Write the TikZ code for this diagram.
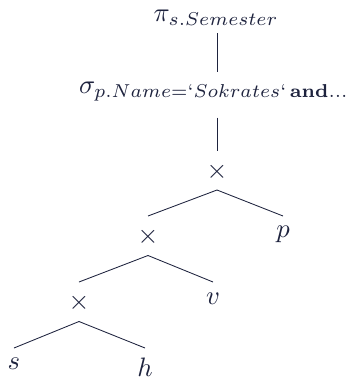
\documentclass[tikz,border=0pt]{standalone}
\usetikzlibrary{calc}
\definecolor{ink}{RGB}{30,35,62}
\begin{document}
\begin{tikzpicture}[x=0.375pt,y=-0.375pt,
  every node/.style={text=ink, inner sep=0pt},
  edge/.style={draw=ink, line width=0.32pt}]
\useasboundingbox (0,0) rectangle (353,378);
\node[anchor=base] (pi) at (216,22) {$\pi_{s.Semester}$};
\node[anchor=base] (sel) at (214,93) {$\sigma_{p.Name=`Sokrates`\,\mathbf{and...}}$};
\node (x1) at (217,171.5) {$\times$};
\node (x2) at (148,237) {$\times$};
\node (x3) at (79,303) {$\times$};
\node[anchor=north] (p) at (283,225) {$p$};
\node[anchor=north] (v) at (213,292) {$v$};
\node[anchor=north] (s) at (14,357) {$s$};
\node[anchor=north] (h) at (145,357) {$h$};
\draw[edge] ($(x1.center)+(0,-138.5)$) -- ($(x1.center)+(0,-99.5)$);
\draw[edge] ($(x1.center)+(0,-54)$) -- ($(x1.center)+(0,-21)$);
\draw[edge] ($(x1.center)+(0,18.5)$) -- ($(x2.center)+(0,-21)$);
\draw[edge] ($(x1.center)+(0,18.5)$) -- ($(p.north)+(0,-9)$);
\draw[edge] ($(x2.center)+(0,18.5)$) -- ($(x3.center)+(0,-21)$);
\draw[edge] ($(x2.center)+(0,18.5)$) -- ($(v.north)+(0,-10)$);
\draw[edge] ($(x3.center)+(0,18.5)$) -- ($(s.north)+(0,-9)$);
\draw[edge] ($(x3.center)+(0,18.5)$) -- ($(h.north)+(0,-9)$);
\end{tikzpicture}
\end{document}
